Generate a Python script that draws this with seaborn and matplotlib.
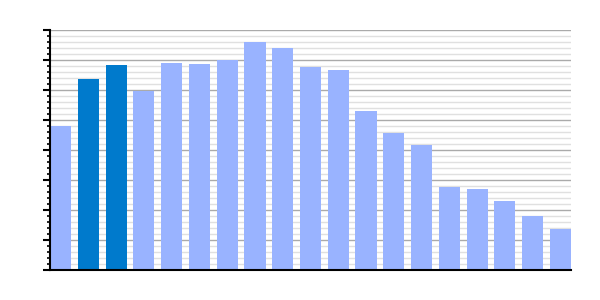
import matplotlib
matplotlib.use("Agg")
import matplotlib.pyplot as plt
from matplotlib.ticker import MultipleLocator, NullFormatter
import seaborn as sns
import pandas as pd

categories = [f"c{i}" for i in range(1, 20)]
values = [4.8, 6.37, 6.83, 5.98, 6.91, 6.88, 7.0, 7.6, 7.4, 6.78, 6.68,
          5.31, 4.57, 4.17, 2.77, 2.7, 2.3, 1.8, 1.37]
highlight = [False, True, True] + [False] * 16

light = "#99b3ff"
dark = "#007acc"

df = pd.DataFrame({"cat": categories, "val": values,
                   "hl": ["h" if h else "n" for h in highlight]})

sns.set_style("white")
fig = plt.figure(figsize=(6, 3), dpi=100)
ax = fig.add_axes([50 / 600, 30 / 300, 521 / 600, 240 / 300])
sns.barplot(data=df, x="cat", y="val", hue="hl", palette={"h": dark, "n": light},
            dodge=False, width=0.76, saturation=1, legend=False, ax=ax,
            edgecolor="none", linewidth=0)
for p in ax.patches:
    p.set_zorder(3)
    p.set_edgecolor("none")
    p.set_linewidth(0)

ax.set_xlim(-0.38, len(values) - 1 + 0.38)
ax.set_ylim(0, 8)
ax.yaxis.set_major_locator(MultipleLocator(1))
ax.yaxis.set_minor_locator(MultipleLocator(0.2))
ax.yaxis.set_major_formatter(NullFormatter())
ax.set_xticks([])
ax.grid(True, which="major", axis="y", color="#aaaaaa", linewidth=1, zorder=0)
ax.grid(True, which="minor", axis="y", color="#e0e0e0", linewidth=1, zorder=0)
ax.set_axisbelow(True)
ax.tick_params(axis="y", which="major", direction="out", length=5, width=1.5, color="black", left=True)
ax.tick_params(axis="y", which="minor", direction="out", length=2.5, width=1.2, color="black", left=True)
for s in ["top", "right"]:
    ax.spines[s].set_visible(False)
for s in ["left", "bottom"]:
    ax.spines[s].set_color("black")
    ax.spines[s].set_linewidth(1.5)
    ax.spines[s].set_zorder(4)
ax.set_xlabel("")
ax.set_ylabel("")

fig.savefig("out.png", dpi=100)
